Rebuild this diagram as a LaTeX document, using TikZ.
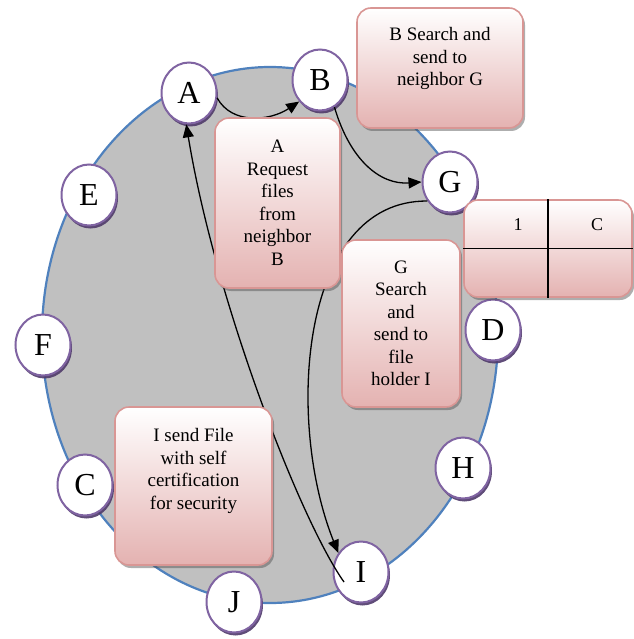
\documentclass[tikz,border=0pt]{standalone}
\usepackage{fontspec}
\setmainfont{Liberation Serif}
\usetikzlibrary{shapes.geometric,shadows,arrows.meta,calc}
\definecolor{ringblue}{HTML}{4F81BD}
\definecolor{ringgray}{HTML}{C0C0C0}
\definecolor{nodepurple}{HTML}{8064A2}
\definecolor{shadowpurple}{HTML}{4F3A6A}
\definecolor{boxborder}{HTML}{D99694}
\definecolor{boxpink}{HTML}{E4B2B1}
\begin{document}
\begin{tikzpicture}[x=1pt,y=-1pt,
  peer/.style={ellipse, draw=nodepurple, line width=2pt, fill=white,
    minimum width=55pt, minimum height=61pt, inner sep=0pt,
    font=\fontsize{32}{32}\selectfont,
    drop shadow={shadow xshift=1.5pt, shadow yshift=-3pt, fill=shadowpurple, opacity=0.9}},
  msgbox/.style={rectangle, rounded corners=14pt, draw=boxborder, line width=1.6pt,
    top color=white, bottom color=boxpink, align=center, inner sep=2pt,
    font=\fontsize{19}{22.5}\selectfont,
    drop shadow={shadow xshift=2pt, shadow yshift=-3pt, fill=black!70, opacity=0.45}},
  celltext/.style={font=\fontsize{18}{18}\selectfont, inner sep=0pt},
  flow/.style={-{Triangle[length=13pt,width=11pt]}, line width=1.3pt, black},
  tableline/.style={line width=1.3pt, black},
]
\path[use as bounding box] (0,0) rectangle (633,639);

% ring
\node[ellipse, draw=ringblue, line width=2.2pt, fill=ringgray,
      minimum width=456pt, minimum height=536pt] (ring) at (270,335) {};

% peers
\node[peer] (A) at (189,93) {A};
\node[peer] (B) at (320,80) {B};
\node[peer] (G) at (450,182) {G};
\node[peer] (E) at (89,195) {E};
\node[peer] (F) at (43,345) {F};
\node[peer] (D) at (493,330) {D};
\node[peer] (H) at (463,468) {H};
\node[peer] (C) at (85,485) {C};
\node[peer] (J) at (234,602) {J};
\node[peer] (I) at (361,572) {I};

% flows
\draw[flow] (A.-10) .. controls (232,125) and (270,121) .. (B.226);
\draw[flow] (B.-62) .. controls (350,160) and (380,185) .. (G.west);
\draw[flow] (G.220) .. controls (300,200) and (285,420) .. (I.140);
\draw[flow] ($(I.center)+(-17,10)$) .. controls (300,520) and (215,300) .. (A.265);

% message boxes
\node[msgbox, minimum width=166pt, minimum height=120pt] (b1) at (440,68)
  {B Search and\\send to\\neighbor G\\ \mbox{}};
\node[msgbox, minimum width=125pt, minimum height=170pt] (b2) at (277.5,203)
  {A\\Request\\files\\from\\neighbor\\B};
\node[msgbox, minimum width=118pt, minimum height=167pt] (b3) at (401,323.5)
  {G\\Search\\and\\send to\\file\\holder I};
\node[msgbox, minimum width=157pt, minimum height=158pt] (b5) at (193.5,486)
  {I send File\\with self\\certification\\for security\\[11.5pt]\mbox{}};

% table
\node[msgbox, minimum width=168pt, minimum height=97pt] (tbl) at (548,248.5) {};
\draw[tableline] (tbl.north) -- (tbl.south);
\draw[tableline] (tbl.west) -- (tbl.east);
\node[celltext] (t1) at (518,225) {1};
\node[celltext] (tC) at (597,225) {C};
\end{tikzpicture}
\end{document}
